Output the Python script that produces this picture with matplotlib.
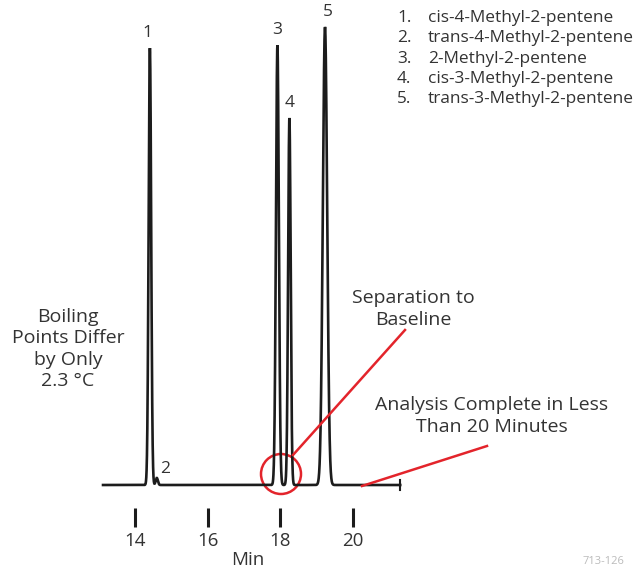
import numpy as np
import matplotlib
matplotlib.use("Agg")
import matplotlib.pyplot as plt
from matplotlib.patches import Ellipse

plt.rcParams['font.family'] = ['Open Sans', 'DejaVu Sans']

# Peak table (retention time in min, height in detector units, width sigma in min)
peak_ids = ["1", "2", "3", "4", "5"]
retention = [14.41, 14.60, 17.92, 18.25, 19.23]
heights = [437, 7, 440, 367, 458]
sigmas = [0.035, 0.03, 0.04, 0.035, 0.06]
compounds = ["cis-4-Methyl-2-pentene", "trans-4-Methyl-2-pentene",
             "2-Methyl-2-pentene", "cis-3-Methyl-2-pentene",
             "trans-3-Methyl-2-pentene"]
tick_values = [14, 16, 18, 20]
run_start, run_end = 13.12, 21.3

W, H, DPI = 636, 569, 100
fig = plt.figure(figsize=(W / DPI, H / DPI), dpi=DPI)
axis_px = 508  # pixel row of the time axis
ax = fig.add_axes([0, (H - axis_px) / H, 1, axis_px / H])
px_per_min = 36.33
x0 = 14 - 135 / px_per_min
ax.set_xlim(x0, x0 + W / px_per_min)
ax.set_ylim(-23, axis_px - 23)

t = np.linspace(run_start, run_end, 4000)
signal = np.zeros_like(t)
for rt, h, s in zip(retention, heights, sigmas):
    signal += h * np.exp(-0.5 * ((t - rt) / s) ** 2)
ink = "#1c1c1c"
grey = "#333333"
ax.plot(t, signal, color=ink, lw=1.9, solid_joinstyle="miter")
ax.plot([run_end, run_end], [-5, 5], color=ink, lw=1.5)

# peak numbers
offsets = [(-2, 5), (6, 1), (0, 5), (0, 5), (2, 5)]
for pid, rt, h, (dx, dy) in zip(peak_ids, retention, heights, offsets):
    ax.annotate(pid, (rt, h), xytext=(dx, dy), textcoords="offset points",
                ha="center", va="bottom", fontsize=12.5, color=grey)

for sp in ax.spines.values():
    sp.set_visible(False)
ax.set_yticks([])
ax.set_xticks(tick_values)
ax.set_xticklabels([str(v) for v in tick_values])
ax.tick_params(axis="x", direction="out", length=14, width=2.2, color=ink,
               pad=3, labelsize=13.5, labelcolor=grey)

red = "#e3242b"
def to_data(px, py):
    return ax.transData.inverted().transform(
        fig.transFigure.transform((px / W, 1 - py / H)))

# circle around the 3/4 pair
cx, cy = to_data(281, 474)
rx = 20 / px_per_min
ax.add_patch(Ellipse((cx, cy), 2 * rx, 40, fill=False, ec=red, lw=1.8))
p1 = to_data(293, 455); p2 = to_data(405, 330)
ax.plot([p1[0], p2[0]], [p1[1], p2[1]], color=red, lw=1.8)
p1 = to_data(362, 486); p2 = to_data(487, 446)
ax.plot([p1[0], p2[0]], [p1[1], p2[1]], color=red, lw=1.8)

txt = dict(color=grey, fontsize=14, ha="center", va="center",
           linespacing=1.22, transform=fig.transFigure)
fig.text(248 / W, 1 - 560 / H, "Min", color=grey, fontsize=13.5,
         ha="center", va="center")
fig.text(68 / W, 1 - 349 / H, "Boiling\nPoints Differ\nby Only\n2.3 °C", **txt)
fig.text(413 / W, 1 - 309 / H, "Separation to\nBaseline", **txt)
fig.text(492 / W, 1 - 416 / H, "Analysis Complete in Less\nThan 20 Minutes", **txt)

for i, name in enumerate(compounds):
    y = 1 - (18 + 20.3 * i) / H
    fig.text(397 / W, y, f"{i + 1}.", fontsize=12.4, color=grey,
             va="center", ha="left")
    fig.text(428 / W, y, name, fontsize=12.4, color=grey,
             va="center", ha="left")

fig.text(583 / W, 1 - 562 / H, "713-126", fontsize=8, color="#bbbbbb",
         va="center", ha="left")

fig.savefig("out.png", dpi=DPI)
